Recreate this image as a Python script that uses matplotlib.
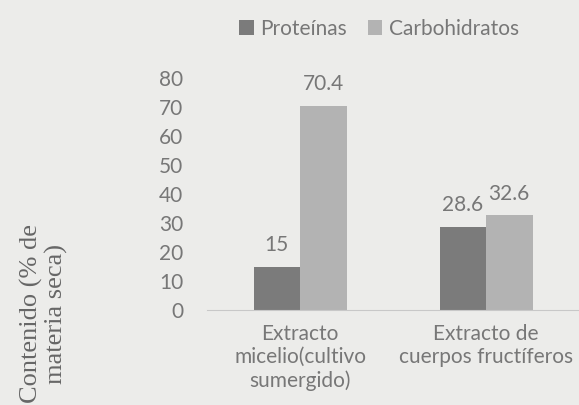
import numpy as np
import matplotlib
matplotlib.use("Agg")
import matplotlib.pyplot as plt

# datos
categorias = ["Extracto\nmicelio(cultivo\nsumergido)", "Extracto de\ncuerpos fructíferos"]
proteinas = [15, 28.6]
carbohidratos = [70.4, 32.6]
etiquetas_prot = ["15", "28.6"]
etiquetas_carb = ["70.4", "32.6"]
ticks_y = [0, 10, 20, 30, 40, 50, 60, 70, 80]

gris_osc = "#7b7b7b"
gris_claro = "#b3b3b3"
texto = "#777777"
fondo = "#ececea"

plt.rcParams["font.family"] = ["Lato", "DejaVu Sans"]

fig = plt.figure(figsize=(5.79, 4.05), dpi=100, facecolor=fondo)
ax = fig.add_axes([207 / 579, 95 / 405, 372 / 579, 232 / 405])
ax.set_facecolor(fondo)

x = np.arange(len(categorias))
w = 0.25
b1 = ax.bar(x - w / 2, proteinas, w, color=gris_osc, label="Proteínas")
b2 = ax.bar(x + w / 2, carbohidratos, w, color=gris_claro, label="Carbohidratos")

for rect, lab in zip(b1, etiquetas_prot):
    ax.text(rect.get_x() + rect.get_width() / 2, rect.get_height() + 4, lab,
            ha="center", va="bottom", fontsize=15, color=texto)
for rect, lab in zip(b2, etiquetas_carb):
    ax.text(rect.get_x() + rect.get_width() / 2, rect.get_height() + 4, lab,
            ha="center", va="bottom", fontsize=15, color=texto)

ax.set_xlim(-0.5, 1.5)
ax.set_ylim(0, 80)
ax.set_yticks(ticks_y)
ax.set_xticks(x)
ax.set_xticklabels(categorias, fontsize=15, color=texto, linespacing=1.2)
ax.tick_params(axis="y", length=0, labelsize=15, labelcolor=texto, pad=17)
ax.tick_params(axis="x", length=0, pad=10)
for s in ["top", "right", "left"]:
    ax.spines[s].set_visible(False)
ax.spines["bottom"].set_color("#c8c8c8")
ax.spines["bottom"].set_clip_on(False)

fig.text(44 / 579, 0.225, "Contenido (% de\nmateria seca)", rotation=90,
         family=["Liberation Serif"], fontsize=19, color="#666666",
         ha="center", va="center", linespacing=1.15)

fig.legend(loc="center", bbox_to_anchor=(379 / 579, 1 - 29 / 405), ncol=2,
           frameon=False, fontsize=15, handlelength=0.7, handleheight=0.7,
           handletextpad=0.3, columnspacing=1.0, labelcolor=texto)

fig.savefig("out.png", dpi=100, facecolor=fondo)
